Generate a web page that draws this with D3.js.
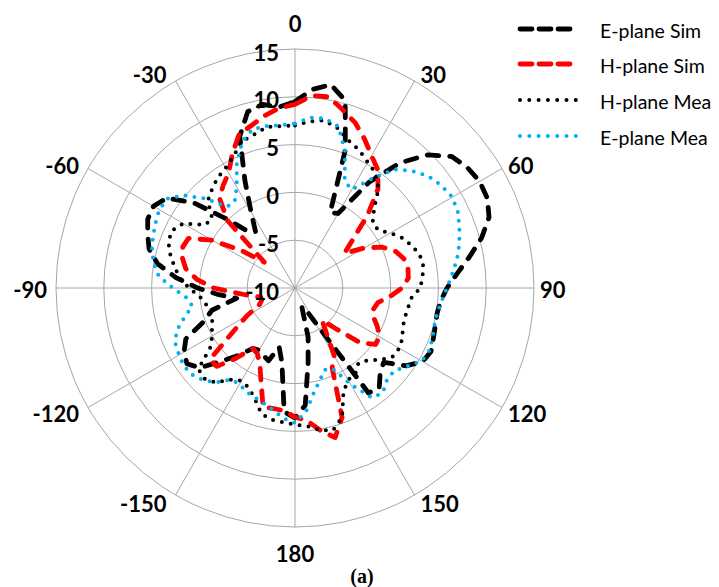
<!DOCTYPE html>
<html>
<head>
<meta charset="utf-8">
<script src="https://cdn.jsdelivr.net/npm/d3@7/dist/d3.min.js"></script>
<style>
  html, body { margin: 0; padding: 0; background: #fff; }
  svg { display: block; }
</style>
</head>
<body>
<svg id="chart" width="719" height="587"></svg>
<script>
// ---------- data ----------
const angles = [0,5,10,15,20,25,30,35,40,45,50,55,60,65,70,75,80,85,90,95,100,105,110,115,120,125,130,135,140,145,150,155,160,165,170,175,180,
  -175,-170,-165,-160,-155,-150,-145,-140,-135,-130,-125,-120,-115,-110,-105,-100,-95,-90,-85,-80,-75,-70,-65,-60,-55,-50,-45,-40,-35,-30,-25,-20,-15,-10,-5];

const ePlaneSim = [9.5,10.85,11.6,10.3,5.4,-1.3,-1.0,3.5,7.1,9.7,11.4,12.0,12.3,12.2,11.6,10.2,8.5,7.0,5.9,5.3,5.1,5.2,5.4,5.7,5.4,4.2,2.1,2.6,3.7,3.4,-6.1,-7.8,-7.9,-4.7,-2.1,2.3,3.6,
  3.0,-2.1,-3.6,-1.9,-2.2,-2.5,-2.3,-0.8,0.8,3.0,3.8,3.4,2.6,0.1,-1.0,-3.8,-2.0,0.2,2.5,4.6,5.8,6.4,7.0,7.1,6.4,3.9,0.3,-2.2,-2.8,-0.8,2.4,6.9,9.1,9.5,9.0];

const hPlaneSim = [9.2,10.2,10.3,9.3,8.4,7.2,6.0,5.1,3.5,0.7,-2.1,-3.7,-1.6,0.1,1.2,1.8,2.0,1.9,1.2,0.0,-1.2,-1.5,-1.3,-0.5,0.2,0.3,-1.1,-4.0,-5.6,-4.3,-1.8,-0.8,4.4,6.2,5.1,3.9,3.5,
  2.9,2.8,2.9,0.4,-1.3,-2.1,-2.3,-0.4,1.6,1.6,-2.2,-4.2,-5.9,-6.3,-6.3,-5.3,-3.9,-1.5,0.3,1.6,2.2,2.5,2.3,0.0,-3.2,-5.8,0.0,2.3,3.1,3.9,5.5,7.1,7.6,8.3,8.9];

const hPlaneMea = [7.0,7.5,7.8,7.3,6.4,5.9,5.2,4.7,3.6,1.7,0.6,0.6,1.5,2.4,3.0,3.5,3.6,3.4,3.1,2.2,2.0,1.9,2.0,2.4,2.6,2.5,1.7,0.7,0.3,1.0,1.1,2.0,4.4,5.4,5.1,4.5,4.3,
  4.1,4.0,3.6,2.3,1.5,1.2,1.7,2.9,3.4,3.2,0.8,0.0,-0.4,-0.8,-0.8,-0.5,0.0,1.1,2.1,2.8,3.5,4.1,4.2,3.5,1.5,1.3,2.9,3.5,4.1,4.5,5.2,6.3,6.6,7.1,7.0];

const ePlaneMea = [7.2,7.9,8.0,7.5,5.3,2.3,1.9,3.9,6.2,7.3,8.2,8.7,9.0,8.8,8.3,7.8,7.2,6.5,5.9,5.4,5.1,5.1,5.3,5.5,5.3,4.3,3.5,3.6,4.3,4.0,1.6,-0.7,-0.9,0.0,1.2,3.0,4.1,
  3.7,3.0,2.5,2.2,2.0,1.6,1.7,2.9,3.6,4.1,4.2,4.0,3.8,3.2,2.0,0.9,1.4,2.8,4.3,5.0,5.5,5.8,6.1,6.4,6.3,5.1,3.2,1.1,1.0,2.2,4.4,6.2,7.2,7.2,7.1];

const seriesNames = ["E-plane Sim", "H-plane Sim", "H-plane Mea", "E-plane Mea"];
const radialTicks = [-10, -5, 0, 5, 10, 15];
const angleTicks = [0, 30, 60, 90, 120, 150, 180, -150, -120, -90, -60, -30];

// ---------- layout / style ----------
const svg = d3.select("#chart");
const cx = 295, cy = 288, R = 239;
const r = d3.scaleLinear().domain([-10, 15]).range([0, R]);
const a = d3.scaleLinear().domain([0, 360]).range([0, 2 * Math.PI]);
const gridColor = "#a6a6a6";
const labelFont = "Lato, 'Open Sans', 'DejaVu Sans', sans-serif";
const labelSize = 22;

const styles = [
  { color: "#000000", width: 4.8, dash: "11.5 11" },
  { color: "#ff0000", width: 4.8, dash: "11.5 11" },
  { color: "#000000", width: 4, dash: "0 9" },
  { color: "#00b0f0", width: 4, dash: "0 9" }
];
const seriesValues = [ePlaneSim, hPlaneSim, hPlaneMea, ePlaneMea];

const g = svg.append("g").attr("transform", `translate(${cx},${cy})`);

// grid circles
g.selectAll("circle.ring").data(radialTicks.filter(t => t > -10)).enter()
  .append("circle").attr("class", "ring")
  .attr("r", d => r(d)).attr("fill", "none")
  .attr("stroke", gridColor).attr("stroke-width", 1);

// spokes
g.selectAll("line.spoke").data(angleTicks).enter()
  .append("line").attr("class", "spoke")
  .attr("x1", 0).attr("y1", 0)
  .attr("x2", d => R * Math.sin(a(d))).attr("y2", d => -R * Math.cos(a(d)))
  .attr("stroke", gridColor).attr("stroke-width", 1);

// series
const line = d3.lineRadial()
  .angle(d => a(d[0]))
  .radius(d => r(d[1]))
  .curve(d3.curveLinearClosed);

seriesValues.forEach((vals, i) => {
  const pts = angles.map((ang, k) => [ang, vals[k]]);
  g.append("path")
    .attr("d", line(pts))
    .attr("fill", "none")
    .attr("stroke", styles[i].color)
    .attr("stroke-width", styles[i].width)
    .attr("stroke-dasharray", styles[i].dash)
    .attr("stroke-linecap", "round")
    .attr("stroke-linejoin", "round");
});

// radial value labels
g.selectAll("text.rlab").data(radialTicks).enter()
  .append("text").attr("class", "rlab")
  .attr("x", -16).attr("y", d => -r(d) + 3)
  .attr("text-anchor", "end").attr("dominant-baseline", "central")
  .attr("font-family", labelFont).attr("font-weight", "bold").attr("font-size", labelSize)
  .attr("fill", "#000").text(d => d);

// angle labels
g.selectAll("text.alab").data(angleTicks).enter()
  .append("text").attr("class", "alab")
  .each(function(d) {
    const t = a(d), s = Math.sin(t), c = Math.cos(t);
    const ex = R * s, ey = -R * c;
    const el = d3.select(this);
    if (Math.abs(s) < 0.01) {
      el.attr("x", ex).attr("y", ey - c * 26).attr("text-anchor", "middle");
    } else {
      const gap = s > 0 ? 6 : 9;
      el.attr("x", ex + (s > 0 ? gap : -gap)).attr("y", ey - c * 9 + 1)
        .attr("text-anchor", s > 0 ? "start" : "end");
    }
  })
  .attr("dominant-baseline", "central")
  .attr("font-family", labelFont).attr("font-weight", "bold").attr("font-size", labelSize)
  .attr("fill", "#000").text(d => d);

// legend
const leg = svg.append("g");
const legY = [29, 64, 100, 136];
seriesNames.forEach((name, i) => {
  leg.append("line")
    .attr("x1", 520).attr("x2", 576).attr("y1", legY[i]).attr("y2", legY[i])
    .attr("stroke", styles[i].color).attr("stroke-width", styles[i].width)
    .attr("stroke-dasharray", i < 2 ? "12 7" : "0 9.3")
    .attr("stroke-linecap", "round");
  leg.append("text")
    .attr("x", 600).attr("y", legY[i] + 1).attr("dominant-baseline", "central")
    .attr("font-family", labelFont).attr("font-size", 19.5).attr("fill", "#000")
    .text(name);
});

// caption
svg.append("text").attr("x", 362).attr("y", 583).attr("text-anchor", "middle")
  .attr("font-family", "'Liberation Serif', 'DejaVu Serif', serif")
  .attr("font-weight", "bold").attr("font-size", 20).text("(a)");
</script>
</body>
</html>
